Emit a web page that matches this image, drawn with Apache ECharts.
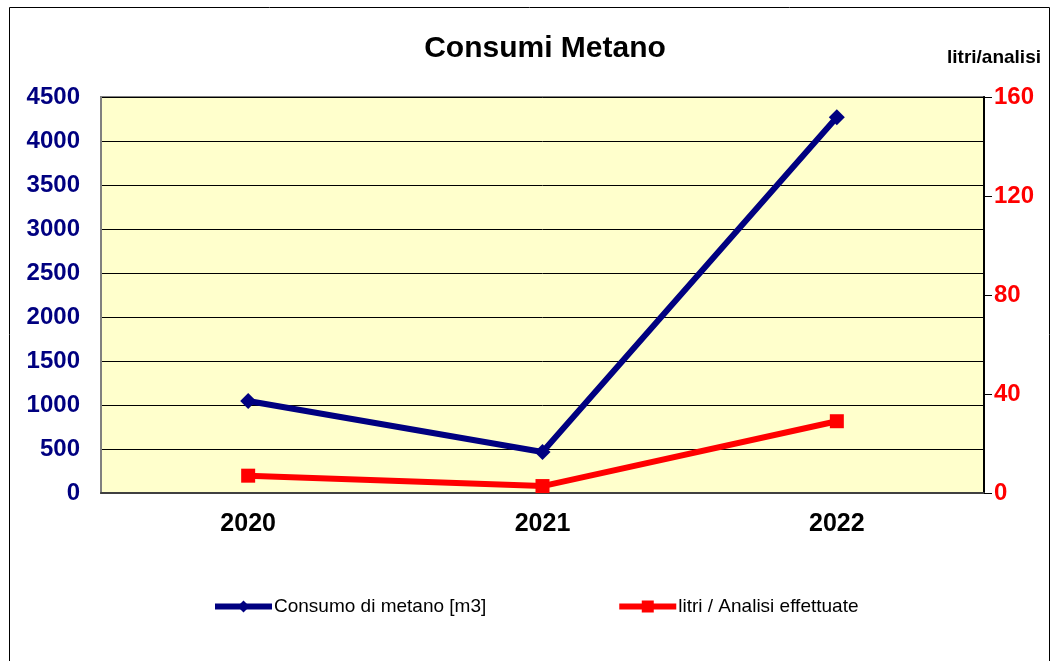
<!DOCTYPE html>
<html>
<head>
<meta charset="utf-8">
<script src="https://cdn.jsdelivr.net/npm/echarts@6/dist/echarts.min.js"></script>
<style>
  html, body { margin: 0; padding: 0; background: #fff; }
  #main { width: 1058px; height: 661px; }
</style>
</head>
<body>
<div id="main"></div>
<script>
// dati
var anni = ["2020", "2021", "2022"];
var consumoMetano = [1045, 466, 4270];
var litriAnalisi = [7, 2.8, 29];

var chart = echarts.init(document.getElementById("main"));
var font = "Liberation Sans, Arial, sans-serif";

var option = {
  animation: false,
  textStyle: { fontFamily: font },
  title: {
    text: "Consumi Metano",
    left: 540,
    top: 29,
    textAlign: "center",
    textStyle: { fontSize: 30, fontWeight: "bold", color: "#000", fontFamily: font }
  },
  graphic: [
    {
      type: "rect",
      shape: { x: 9.5, y: 7.5, width: 1040, height: 670 },
      style: { fill: null, stroke: "#000", lineWidth: 1 }
    },
    {
      type: "text",
      left: 947,
      top: 48,
      style: { text: "litri/analisi", font: "bold 19px " + font, fill: "#000" }
    }
  ],
  grid: {
    left: 101,
    right: 1058 - 984,
    top: 97,
    bottom: 661 - 493,
    show: true,
    backgroundColor: "#FFFFCC",
    borderColor: "#808080",
    borderWidth: 2
  },
  legend: {
    top: 592,
    left: 207,
    itemGap: 130,
    itemWidth: 57,
    itemHeight: 15,
    textStyle: { fontSize: 19, color: "#000", fontFamily: font, padding: [0, 0, 0, -3] },
    lineStyle: { width: 6 },
    data: ["Consumo di metano [m3]", "litri / Analisi effettuate"]
  },
  xAxis: {
    type: "category",
    data: anni,
    boundaryGap: true,
    axisLine: { show: true, lineStyle: { color: "#404040", width: 2 } },
    axisTick: { show: false },
    axisLabel: { fontSize: 25, fontWeight: "bold", color: "#000", margin: 19 }
  },
  yAxis: [
    {
      type: "value",
      min: 0,
      max: 4500,
      interval: 500,
      axisLine: { show: true, lineStyle: { color: "#808080", width: 2 } },
      axisTick: { show: false },
      splitLine: { show: true, lineStyle: { color: "#000", width: 1 } },
      axisLabel: {
        fontSize: 24,
        fontWeight: "bold",
        color: "#000080",
        margin: 21,
        formatter: function(value) {
          return String(value);
        }
      }
    },
    {
      type: "value",
      min: 0,
      max: 160,
      interval: 40,
      position: "right",
      axisLine: { show: true, lineStyle: { color: "#000", width: 2 } },
      axisTick: { show: true, inside: false, length: 8, lineStyle: { color: "#000" } },
      splitLine: { show: false },
      axisLabel: { fontSize: 24, fontWeight: "bold", color: "#FF0000", margin: 10 }
    }
  ],
  series: [
    {
      name: "Consumo di metano [m3]",
      type: "line",
      data: consumoMetano,
      yAxisIndex: 0,
      color: "#000080",
      symbol: "diamond",
      symbolSize: 16,
      lineStyle: { width: 6, color: "#000080" },
      itemStyle: { color: "#000080" }
    },
    {
      name: "litri / Analisi effettuate",
      type: "line",
      data: litriAnalisi,
      yAxisIndex: 1,
      color: "#FF0000",
      symbol: "rect",
      symbolSize: 14,
      lineStyle: { width: 6, color: "#FF0000" },
      itemStyle: { color: "#FF0000" }
    }
  ]
};

chart.setOption(option);
</script>
</body>
</html>
